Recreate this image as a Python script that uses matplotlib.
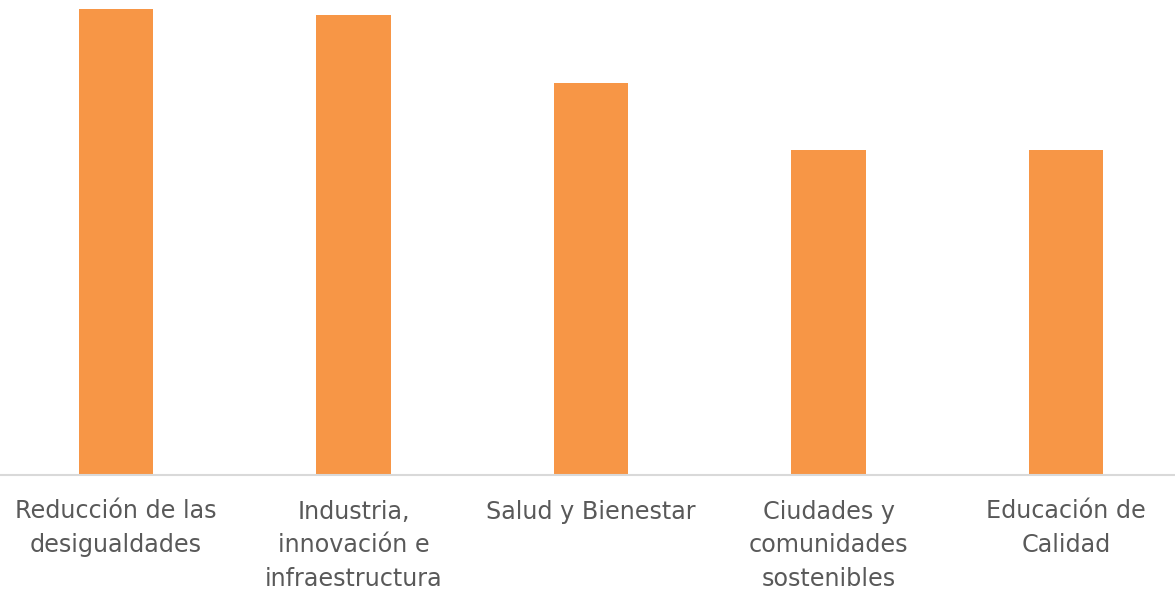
import matplotlib.pyplot as plt

# data
categories = ["Reducción de las\ndesigualdades",
              "Industria,\ninnovación e\ninfraestructura",
              "Salud y Bienestar",
              "Ciudades y\ncomunidades\nsostenibles",
              "Educación de\nCalidad"]
values = [69, 68, 58, 48, 48]

W, H = 1175, 592
fig = plt.figure(figsize=(W / 100, H / 100), dpi=100)

# axes placed so bar centres / baseline line up with the reference
left = (116 - 118.75) / W
bottom = (H - 474.5) / H
ax = fig.add_axes([left, bottom, 1187.5 / W, (474.5 - 8.5) / H])

x = range(len(categories))
ax.bar(x, values, width=0.315, color="#F79646", zorder=2)
ax.set_xlim(-0.5, len(categories) - 0.5)
ax.set_ylim(0, max(values))

for s in ["top", "right", "left"]:
    ax.spines[s].set_visible(False)
ax.spines["bottom"].set_color("#D9D9D9")
ax.spines["bottom"].set_linewidth(1.5)
ax.spines["bottom"].set_zorder(3)
ax.set_yticks([])
ax.set_xticks(list(x))
ax.set_xticklabels(categories, fontsize=17.2, color="#595959",
                   family="DejaVu Sans", linespacing=1.5)
ax.tick_params(axis="x", length=0, pad=18)

fig.savefig("out.png", dpi=100)
